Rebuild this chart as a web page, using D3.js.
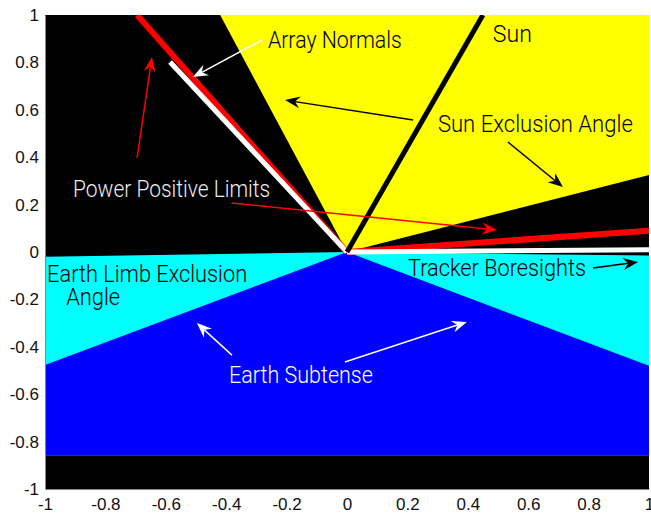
<!DOCTYPE html>
<html>
<head>
<meta charset="utf-8">
<script src="https://cdn.jsdelivr.net/npm/d3@7"></script>
<style>
  body { margin: 0; background: #fff; }
  svg { display: block; }
  text { font-family: "Liberation Sans", Arial, Helvetica, sans-serif; }
  .callout { font-family: Roboto, "Liberation Sans", Arial, sans-serif; font-weight: 300; }
</style>
</head>
<body>
<svg id="chart" width="651" height="514"></svg>
<script>
// Axis ticks (MATLAB-style labels)
const xTicks = [-1, -0.8, -0.6, -0.4, -0.2, 0, 0.2, 0.4, 0.6, 0.8, 1];
const xTickLabels = ["-1", "-0.8", "-0.6", "-0.4", "-0.2", "0", "0.2", "0.4", "0.6", "0.8", "1"];
const yTicks = [-1, -0.8, -0.6, -0.4, -0.2, 0, 0.2, 0.4, 0.6, 0.8, 1];
const yTickLabels = ["-1", "-0.8", "-0.6", "-0.4", "-0.2", "0", "0.2", "0.4", "0.6", "0.8", "1"];

// Geometry in the orbit plane (unit vectors drawn from the spacecraft at the origin)
const sunDirection = [0.45, 1];
const sunExclusionEdges = [[-0.42, 1], [1, 0.325]];
const powerPositiveLimits = [[-0.695, 1], [1, 0.09]];
const arrayNormals = [[-0.586, 0.802], [1, 0.01]];
const earthLimbEdges = [[-1, -0.02], [1, -0.015]];
const earthSubtenseEdges = [[-1, -0.477], [1, -0.48]];
const earthFloor = -0.86;

// Callout labels: text, anchor point (data units), colour, rendered width
const calloutText = ["Array Normals", "Sun", "Sun Exclusion Angle", "Power Positive Limits",
                     "Earth Limb Exclusion", "Angle", "Tracker Boresights", "Earth Subtense"];
const calloutAt = [[-0.262, 0.861], [0.483, 0.886], [0.301, 0.506], [-0.907, 0.232],
                   [-0.993, -0.127], [-0.93, -0.224], [0.202, -0.101], [-0.391, -0.553]];
const calloutColor = ["#000", "#000", "#000", "#eeeeee", "#000", "#000", "#000", "#ffffff"];
const calloutWidth = [134, 39, 195, 197, 200, 54, 178, 144];

// Callout arrows: tail -> head (data units)
const arrowFrom = [[-0.281, 0.895], [0.219, 0.557], [0.533, 0.464], [-0.695, 0.397],
                   [-0.381, 0.207], [0.815, -0.068], [-0.381, -0.435], [-0.007, -0.464]];
const arrowTo = [[-0.51, 0.738], [-0.205, 0.641], [0.715, 0.274], [-0.646, 0.823],
                 [0.497, 0.093], [0.964, -0.042], [-0.497, -0.3], [0.397, -0.295]];
const arrowColor = ["#fff", "#000", "#000", "#ff0000", "#ff0000", "#000", "#fff", "#fff"];

const svg = d3.select("#chart");
const plot = { left: 45, right: 649, top: 15, bottom: 489 };

const x = d3.scaleLinear().domain([-1, 1]).range([plot.left, plot.right]);
const y = d3.scaleLinear().domain([-1, 1]).range([plot.bottom, plot.top]);
const [x0, x1] = x.domain();
const [y0, y1] = y.domain();

svg.append("defs").append("clipPath").attr("id", "plotClip")
  .append("rect")
  .attr("x", plot.left).attr("y", plot.top)
  .attr("width", plot.right - plot.left).attr("height", plot.bottom - plot.top);

const g = svg.append("g").attr("clip-path", "url(#plotClip)");
const line = d3.line().x(d => x(d[0])).y(d => y(d[1]));
const poly = pts => line(pts) + "Z";
const origin = [0, 0];

// Background (space)
g.append("rect")
  .attr("x", x(x0)).attr("y", y(y1))
  .attr("width", x(x1) - x(x0)).attr("height", y(y0) - y(y1))
  .attr("fill", "#000");

// Sun exclusion cone
g.append("path")
  .attr("d", poly([origin, sunExclusionEdges[0], [x1, y1], sunExclusionEdges[1]]))
  .attr("fill", "#ffff00");

// Earth limb exclusion band
g.append("path")
  .attr("d", poly([earthLimbEdges[0], origin, earthLimbEdges[1], [x1, earthFloor], [x0, earthFloor]]))
  .attr("fill", "#00ffff");

// Earth subtense
g.append("path")
  .attr("d", poly([origin, earthSubtenseEdges[0], [x0, earthFloor], [x1, earthFloor], earthSubtenseEdges[1]]))
  .attr("fill", "#0000ff");

// Power positive limits
powerPositiveLimits.forEach(v => {
  g.append("path").attr("d", line([origin, v]))
    .attr("stroke", "#ff0000").attr("stroke-width", 6).attr("fill", "none");
});

// Array normals / tracker boresights
arrayNormals.forEach(v => {
  g.append("path").attr("d", line([origin, v]))
    .attr("stroke", "#ffffff").attr("stroke-width", 5).attr("fill", "none");
});

// Sun line
g.append("path").attr("d", line([origin, sunDirection]))
  .attr("stroke", "#000").attr("stroke-width", 5).attr("fill", "none");

// Axis frame and tick labels
const xAxis = d3.axisBottom(x).tickValues(xTicks).tickSize(0).tickPadding(9)
  .tickFormat((d, i) => xTickLabels[i]);
const yAxis = d3.axisLeft(y).tickValues(yTicks).tickSize(0).tickPadding(6)
  .tickFormat((d, i) => yTickLabels[i]);

const gx = svg.append("g").attr("transform", `translate(0,${plot.bottom})`).call(xAxis);
const gy = svg.append("g").attr("transform", `translate(${plot.left},0)`).call(yAxis);
[gx, gy].forEach(a => {
  a.select(".domain").attr("stroke", "#888").attr("stroke-width", 1);
  a.selectAll("text").attr("font-size", 17).attr("fill", "#111")
    .attr("font-family", "'Liberation Sans', Arial, sans-serif");
});

// Callout arrows with notched heads
const ann = svg.append("g");
arrowFrom.forEach((from, i) => {
  const tx = x(arrowTo[i][0]), ty = y(arrowTo[i][1]);
  const fx = x(from[0]), fy = y(from[1]);
  const len = Math.hypot(tx - fx, ty - fy);
  const ux = (tx - fx) / len, uy = (ty - fy) / len;
  const nx = -uy, ny = ux;
  const L = 15, W = 6, notch = 5;
  const bx = tx - (L - notch) * ux, by = ty - (L - notch) * uy;
  ann.append("line")
    .attr("x1", fx).attr("y1", fy).attr("x2", bx).attr("y2", by)
    .attr("stroke", arrowColor[i]).attr("stroke-width", 1.5);
  const head = [
    [tx, ty],
    [tx - L * ux + W * nx, ty - L * uy + W * ny],
    [bx, by],
    [tx - L * ux - W * nx, ty - L * uy - W * ny]
  ];
  ann.append("path")
    .attr("d", "M" + head.map(p => p.join(",")).join("L") + "Z")
    .attr("fill", arrowColor[i]);
});

// Callout text
calloutText.forEach((t, i) => {
  ann.append("text")
    .attr("class", "callout")
    .attr("x", x(calloutAt[i][0]))
    .attr("y", y(calloutAt[i][1]))
    .attr("font-size", 24)
    .attr("fill", calloutColor[i])
    .attr("textLength", calloutWidth[i])
    .attr("lengthAdjust", "spacingAndGlyphs")
    .text(t);
});
</script>
</body>
</html>
